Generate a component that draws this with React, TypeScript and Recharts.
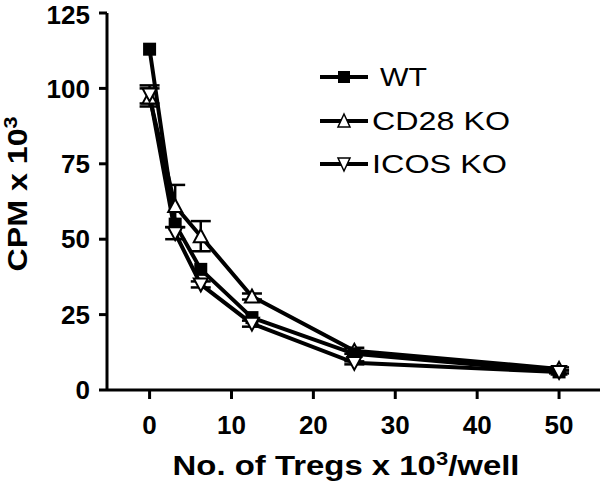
import React from 'react';
import { LineChart, Line, XAxis, YAxis, ErrorBar, Legend } from 'recharts';

const doses = [0, 3.125, 6.25, 12.5, 25, 50];
const wtValues = [113, 55, 40, 24, 12, 6];
const cd28Values = [97, 61, 51, 31, 13, 7];
const cd28Errors = [3, 7, 5, 1, 1, 0.5];
const icosValues = [98, 52, 35, 22, 9, 6];
const icosErrors = [3, 2, 1, 1, 0.5, 0.5];
const xTicks = [0, 10, 20, 30, 40, 50];
const yTicks = [0, 25, 50, 75, 100, 125];
const seriesNames = ['WT', 'CD28 KO', 'ICOS KO'];

const data = doses.map((d, i) => ({
  dose: d,
  wt: wtValues[i],
  cd28: cd28Values[i],
  cd28Err: cd28Errors[i],
  icos: icosValues[i],
  icosErr: icosErrors[i],
}));

const FONT = '"Liberation Sans", Arial, Helvetica, sans-serif';

const SquareDot = (props: any) => {
  const { cx, cy } = props;
  if (cx == null || cy == null) return null;
  const s = 13;
  return <rect x={cx - s / 2} y={cy - s / 2} width={s} height={s} fill="#000" />;
};

const UpTriDot = (props: any) => {
  const { cx, cy } = props;
  if (cx == null || cy == null) return null;
  const r = 7;
  return (
    <polygon
      points={`${cx},${cy - r} ${cx + r},${cy + r * 0.85} ${cx - r},${cy + r * 0.85}`}
      fill="#fff"
      stroke="#000"
      strokeWidth={2}
    />
  );
};

const DownTriDot = (props: any) => {
  const { cx, cy } = props;
  if (cx == null || cy == null) return null;
  const r = 7;
  return (
    <polygon
      points={`${cx},${cy + r} ${cx + r},${cy - r * 0.85} ${cx - r},${cy - r * 0.85}`}
      fill="#fff"
      stroke="#000"
      strokeWidth={2}
    />
  );
};

const LegendContent = () => {
  const rows = [
    { y: 28, tx: 60, len: 47, kind: 'sq' },
    { y: 72, tx: 52, len: 138, kind: 'up' },
    { y: 115, tx: 52, len: 135, kind: 'down' },
  ];
  return (
    <svg width={220} height={140} style={{ overflow: 'visible', display: 'block' }}>
      {rows.map((r, i) => (
        <g key={i}>
          <line x1={0} x2={48} y1={r.y} y2={r.y} stroke="#000" strokeWidth={4} />
          {r.kind === 'sq' && <rect x={18} y={r.y - 6} width={12} height={12} fill="#000" />}
          {r.kind === 'up' && (
            <polygon points={`24,${r.y - 7} 30,${r.y + 6} 18,${r.y + 6}`} fill="#fff" stroke="#000" strokeWidth={1.5} />
          )}
          {r.kind === 'down' && (
            <polygon points={`24,${r.y + 7} 30,${r.y - 6} 18,${r.y - 6}`} fill="#fff" stroke="#000" strokeWidth={1.5} />
          )}
          <text
            x={r.tx}
            y={r.y + 9}
            fontFamily={FONT}
            fontSize={25}
            fill="#000"
            textLength={r.len}
            lengthAdjust="spacingAndGlyphs"
          >
            {seriesNames[i]}
          </text>
        </g>
      ))}
    </svg>
  );
};

const XLabel = () => (
  <text
    x={346}
    y={475}
    textAnchor="middle"
    fontFamily={FONT}
    fontWeight="bold"
    fontSize={27}
    fill="#000"
    textLength={347}
    lengthAdjust="spacingAndGlyphs"
  >
    No. of Tregs x 10<tspan dy={-10} fontSize={18}>3</tspan>
    <tspan dy={10}>/well</tspan>
  </text>
);

const YLabel = () => (
  <text
    x={0}
    y={0}
    transform="translate(27,194) rotate(-90)"
    textAnchor="middle"
    fontFamily={FONT}
    fontWeight="bold"
    fontSize={27}
    fill="#000"
    textLength={155}
    lengthAdjust="spacingAndGlyphs"
  >
    CPM x 10<tspan dy={-10} fontSize={18}>3</tspan>
  </text>
);

export default function App() {
  return (
    <div>
      <style>{`body{margin:0;background:#fff}`}</style>
      <LineChart
        width={601}
        height={485}
        data={data}
        margin={{ top: 13, right: 1, bottom: 35, left: 0 }}
      >
        <XAxis
          dataKey="dose"
          type="number"
          domain={[-5.2, 55]}
          ticks={xTicks}
          allowDataOverflow
          stroke="#000"
          strokeWidth={3}
          tickSize={9}
          tickMargin={17}
          height={60}
          tick={{ fill: '#000', fontFamily: FONT, fontWeight: 'bold', fontSize: 26 }}
          tickLine={{ stroke: '#000', strokeWidth: 3 }}
          label={<XLabel />}
        />
        <YAxis
          type="number"
          domain={[0, 125]}
          ticks={yTicks}
          width={107}
          stroke="#000"
          strokeWidth={3}
          tickSize={8}
          tickMargin={9}
          tick={{ fill: '#000', fontFamily: FONT, fontWeight: 'bold', fontSize: 26 }}
          tickLine={{ stroke: '#000', strokeWidth: 3 }}
          label={<YLabel />}
        />
        <Legend
          layout="vertical"
          verticalAlign="middle"
          align="center"
          content={<LegendContent />}
          wrapperStyle={{ position: 'absolute', left: 320, top: 49, width: 220, height: 140 }}
        />
        <Line
          dataKey="cd28"
          name="CD28 KO"
          stroke="#000"
          strokeWidth={4}
          dot={<UpTriDot />}
          activeDot={false}
          isAnimationActive={false}
        >
          <ErrorBar dataKey="cd28Err" direction="y" width={10} stroke="#000" strokeWidth={2.5} />
        </Line>
        <Line
          dataKey="wt"
          name="WT"
          stroke="#000"
          strokeWidth={4}
          dot={<SquareDot />}
          activeDot={false}
          isAnimationActive={false}
        />
        <Line
          dataKey="icos"
          name="ICOS KO"
          stroke="#000"
          strokeWidth={4}
          dot={<DownTriDot />}
          activeDot={false}
          isAnimationActive={false}
        >
          <ErrorBar dataKey="icosErr" direction="y" width={10} stroke="#000" strokeWidth={2.5} />
        </Line>
      </LineChart>
    </div>
  );
}
